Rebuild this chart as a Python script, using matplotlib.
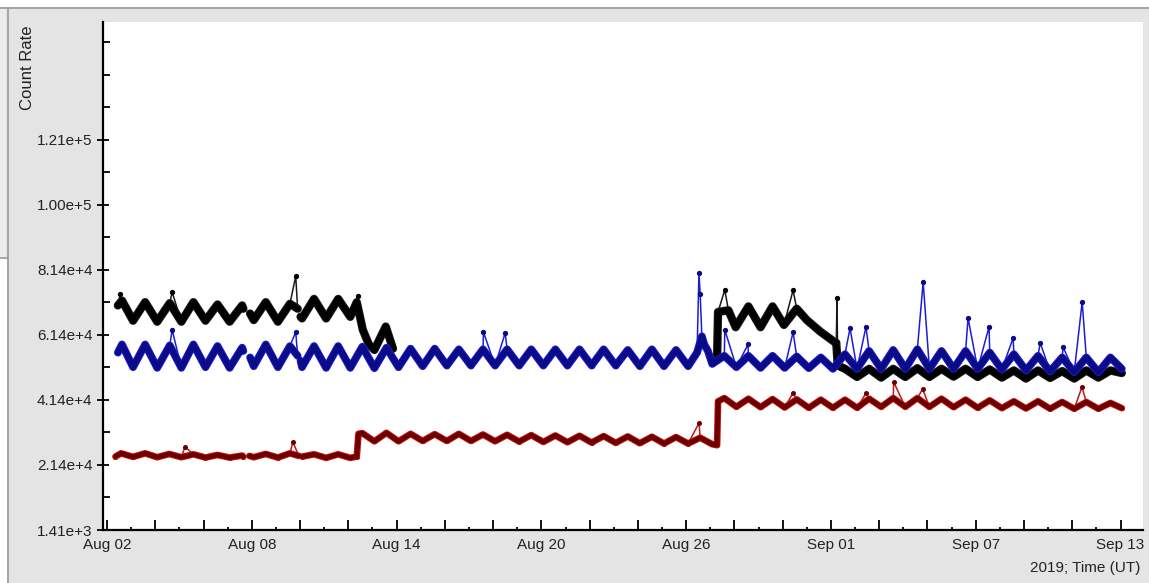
import numpy as np
import matplotlib
matplotlib.use("Agg")
import matplotlib.pyplot as plt
import matplotlib.dates as mdates
from matplotlib.patches import Rectangle
from matplotlib.lines import Line2D

# =========================
# DATA  (time = days after 2019-08-02 00:00 UT, value = count rate)
# =========================
nan = np.nan

black_t = [0.45, 0.62, 1.08, 1.58, 2.08, 2.6, 3.08, 3.58, 4.08, 4.58, 5.08, 5.6, 5.65, 5.8,
           5.93, 6.08, 6.58, 7.08, 7.58, 7.9, 7.95,
           8.02, 8.08, 8.58, 9.08, 9.58, 10.08, 10.35, 10.6, 10.85, 11.08, 11.55, 11.85, 12.0,
           25.28, 25.32, 25.75, 26.05, 26.58, 27.08, 27.58, 28.05, 28.58, 29.0, 29.55, 30.1, 30.22,
           30.28, 30.58, 31.08, 31.58, 32.08, 32.58, 33.08, 33.58, 34.08, 34.58, 35.08, 35.58,
           36.08, 36.58, 37.08, 37.58, 38.08, 38.58, 39.08, 39.58, 40.08, 40.58, 41.08, 41.58, 42.05]
black_v = [70500, 72000, 65800, 71500, 65500, 71200, 65500, 71500, 65800, 70800, 65500, 70500, 69500, nan,
           68000, 66000, 71500, 65500, 71000, 69500, nan,
           67000, 66500, 72500, 66500, 72500, 67000, 71500, 63000, 58500, 56800, 64000, 57200, nan,
           54000, 68500, 69000, 63800, 70200, 63800, 70200, 64500, 69500, 66000, 62500, 59500, 59000,
           52000, 51000, 48500, 51000, 48300, 51000, 48500, 51200, 48500, 51000, 48600, 51000,
           48500, 50800, 48300, 50500, 48000, 50500, 48200, 50300, 48000, 50500, 48300, 50500, 49700]
black_spike_t = [0.55, 2.7, 7.82, 10.4, 25.6, 28.43, 30.25]
black_spike_v = [74000, 74600, 79500, 73500, 75300, 75200, 72800]

blue_t = [0.45, 0.62, 1.08, 1.58, 2.08, 2.6, 3.08, 3.58, 4.08, 4.58, 5.08, 5.6, 5.65, 5.8,
          5.93, 6.08, 6.58, 7.08, 7.58, 7.9, 7.95,
          8.02, 8.08, 8.58, 9.08, 9.58, 10.08, 10.58, 11.08, 11.58, 12.08, 12.58, 13.08, 13.58,
          14.08, 14.58, 15.08, 15.58, 16.08, 16.58, 17.08, 17.58, 18.08, 18.58, 19.08, 19.58,
          20.08, 20.58, 21.08, 21.58, 22.08, 22.58, 23.08, 23.58, 24.08, 24.45, 24.65, 24.75,
          24.9, 25.08, 25.58, 26.08, 26.58, 27.08, 27.58, 28.08, 28.58, 29.08, 29.58, 30.08,
          30.58, 31.08, 31.58, 32.08, 32.58, 33.08, 33.58, 34.08, 34.58, 35.08, 35.58, 36.08,
          36.58, 37.08, 37.58, 38.08, 38.58, 39.08, 39.58, 40.08, 40.58, 41.08, 41.58, 42.05]
blue_v = [56000, 58500, 51500, 58500, 51300, 58200, 51300, 58500, 51500, 58000, 51300, 57500, 56500, nan,
          54500, 51800, 58500, 51500, 58000, 55000, nan,
          53500, 51500, 58000, 51300, 58000, 51300, 57800, 51200, 57500, 51500, 57200, 51800, 57200,
          52000, 57000, 52000, 57000, 52000, 57000, 52000, 57000, 52000, 57000, 52000, 57000,
          52000, 57000, 52000, 56800, 51800, 57000, 51800, 56800, 51800, 56000, 61000, 58500,
          56500, 52500, 55000, 51500, 55000, 51300, 55000, 51300, 54800, 51200, 54500, 51000,
          55500, 51000, 56500, 51000, 56800, 51000, 57000, 51000, 56500, 51000, 56500, 51000,
          56000, 50800, 55500, 50500, 55000, 50200, 54500, 50000, 54500, 50000, 54500, 51000]
blue_spike_t = [2.7, 7.82, 15.6, 16.5, 24.53, 24.58, 25.6, 26.56, 28.43, 30.79, 31.45,
                33.82, 35.68, 36.55, 37.55, 38.67, 39.62, 40.41]
blue_spike_v = [63000, 62300, 62300, 62000, 80500, 74000, 63000, 58500, 62300, 63500, 63900,
                77700, 66600, 63900, 60500, 59000, 57700, 71600]

red_t = [0.35, 0.58, 1.08, 1.58, 2.08, 2.58, 3.08, 3.58, 4.08, 4.58, 5.08, 5.6, 5.65, 5.8,
         5.9, 6.08, 6.58, 7.08, 7.58, 7.95, 8.0,
         8.1, 8.58, 9.08, 9.58, 10.08, 10.35, 10.42, 10.58, 11.08, 11.58, 12.08, 12.58, 13.08,
         13.58, 14.08, 14.58, 15.08, 15.58, 16.08, 16.58, 17.08, 17.58, 18.08, 18.58, 19.08,
         19.58, 20.08, 20.58, 21.08, 21.58, 22.08, 22.58, 23.08, 23.58, 24.08, 24.58, 25.08,
         25.28, 25.32, 25.58, 26.08, 26.58, 27.08, 27.58, 28.08, 28.58, 29.08, 29.58, 30.08,
         30.58, 31.08, 31.58, 32.08, 32.58, 33.08, 33.58, 34.08, 34.58, 35.08, 35.58, 36.08,
         36.58, 37.08, 37.58, 38.08, 38.58, 39.08, 39.58, 40.08, 40.58, 41.08, 41.58, 42.05]
red_v = [24000, 25000, 23900, 25000, 23800, 24800, 23800, 24700, 23700, 24500, 23700, 24300, 24000, nan,
         24200, 23800, 24800, 23700, 25000, 24200, nan,
         24000, 24700, 23600, 24700, 23600, 24000, 31000, 31200, 28700, 31300, 28700, 31000, 28800,
         30900, 28800, 31000, 28800, 30800, 28700, 30700, 28600, 30600, 28500, 30500, 28400,
         30400, 28300, 30300, 28200, 30200, 28100, 30100, 28000, 30000, 28000, 29800, 27800,
         27500, 41000, 42000, 39300, 41800, 39200, 41700, 39100, 41600, 39000, 41500, 39000,
         41500, 39000, 41800, 39300, 42000, 39300, 42000, 39300, 41800, 39200, 41500, 39000,
         41300, 38900, 41000, 38800, 41000, 38700, 40800, 38700, 40800, 38700, 40500, 38900]
red_spike_t = [3.23, 7.7, 24.53, 28.43, 31.45, 32.6, 33.8, 40.4]
red_spike_v = [27000, 28500, 34300, 43600, 43500, 46900, 44800, 45400]

ytick_vals = [1410, 21410, 41410, 61410, 81410, 101410, 121410]
ytick_labels = ["1.41e+3", "2.14e+4", "4.14e+4", "6.14e+4", "8.14e+4", "1.00e+5", "1.21e+5"]
xlabel_days = [0, 6, 12, 18, 24, 30, 36, 42]
xlabel_text = ["Aug 02", "Aug 08", "Aug 14", "Aug 20", "Aug 26", "Sep 01", "Sep 07", "Sep 13"]

# =========================
# FIGURE
# =========================
W, H = 1149, 583
BG = "#e4e4e4"
EDGE = "#9a9a9a"
plt.rcParams["font.family"] = ["Liberation Sans", "DejaVu Sans"]
FS = 11

fig = plt.figure(figsize=(W / 100, H / 100), dpi=100, facecolor=BG)

# window frame bits at the top/left edge
fig.add_artist(Rectangle((0, 1 - 7 / H), 1, 7 / H, transform=fig.transFigure,
                         facecolor="white", edgecolor="none"))
fig.add_artist(Rectangle((0, 0), 7 / W, 1 - 258 / H, transform=fig.transFigure,
                         facecolor="white", edgecolor="none"))
fig.add_artist(Rectangle((0, 1 - 258 / H), 6 / W, 251 / H, transform=fig.transFigure,
                         facecolor="#ececec", edgecolor="none"))
fig.add_artist(Line2D([0, 1], [1 - 7.5 / H] * 2, transform=fig.transFigure,
                      color=EDGE, lw=1.2))
fig.add_artist(Line2D([7.5 / W] * 2, [0, 1 - 7.5 / H], transform=fig.transFigure,
                      color=EDGE, lw=1.2))
fig.add_artist(Line2D([0, 7.5 / W], [1 - 258 / H] * 2, transform=fig.transFigure,
                      color=EDGE, lw=1.2))

ax = fig.add_axes([103 / W, 53 / H, 1040 / W, 508 / H])
ax.set_facecolor("white")

day0 = mdates.date2num(np.datetime64("2019-08-02T00:00"))


def draw(t, v, st, sv, body, edge, lw, ms):
    t = np.asarray(t, float)
    v = np.asarray(v, float)
    # thin line with spikes included
    tt = np.concatenate([t, st])
    vv = np.concatenate([v, sv])
    order = np.argsort(tt, kind="stable")
    ax.plot(day0 + tt[order], vv[order], color=edge, lw=1.1, marker="o", ms=ms,
            mfc=body, mec=body, zorder=2)
    # thick body
    ax.plot(day0 + t, v, color=edge, lw=lw + 1.4, solid_capstyle="round",
            solid_joinstyle="round", zorder=2)
    ax.plot(day0 + t, v, color=body, lw=lw, solid_capstyle="round",
            solid_joinstyle="round", zorder=2)


draw(black_t, black_v, black_spike_t, black_spike_v, "#000000", "#1a1a1a", 4.6, 2.8)
draw(blue_t, blue_v, blue_spike_t, blue_spike_v, "#0b0b86", "#1c1cd8", 4.2, 2.8)
draw(red_t, red_v, red_spike_t, red_spike_v, "#6a0000", "#c41414", 3.4, 2.6)

ax.set_xlim(day0 - 0.166, day0 + 42.93)
ax.set_ylim(1410, 157700)

# axes style
for s in ["top", "right"]:
    ax.spines[s].set_visible(False)
for s in ["left", "bottom"]:
    ax.spines[s].set_linewidth(1.6)

ax.set_xticks([day0 + d for d in range(0, 43, 2)])
ax.set_xticklabels([xlabel_text[xlabel_days.index(d)] if d in xlabel_days else ""
                    for d in range(0, 43, 2)], fontsize=FS, color="#222222")
ax.set_xticks([day0 + d for d in range(1, 43, 2)], minor=True)
ax.tick_params(axis="x", which="major", direction="in", length=7, width=1.3, pad=6)
ax.tick_params(axis="x", which="minor", direction="in", length=2.5, width=1.3)

ax.set_yticks(ytick_vals)
ax.set_yticklabels(ytick_labels, fontsize=FS, color="#222222")
ax.set_yticks([11410, 31410, 51410, 71410, 91410, 111410, 131410, 141410, 151410], minor=True)
ax.tick_params(axis="y", which="major", direction="inout", length=9, width=1.3, pad=3)
ax.tick_params(axis="y", which="minor", direction="in", length=5, width=1.3)

fig.text(28 / W, 1 - 25 / H, "Count Rate", rotation=90, ha="center", va="top",
         fontsize=12, color="#222222")
fig.text(1140 / W, 1 - 568 / H, "2019; Time (UT)", ha="right", va="center",
         fontsize=FS, color="#222222")

fig.savefig("out.png", dpi=100, facecolor=BG)
